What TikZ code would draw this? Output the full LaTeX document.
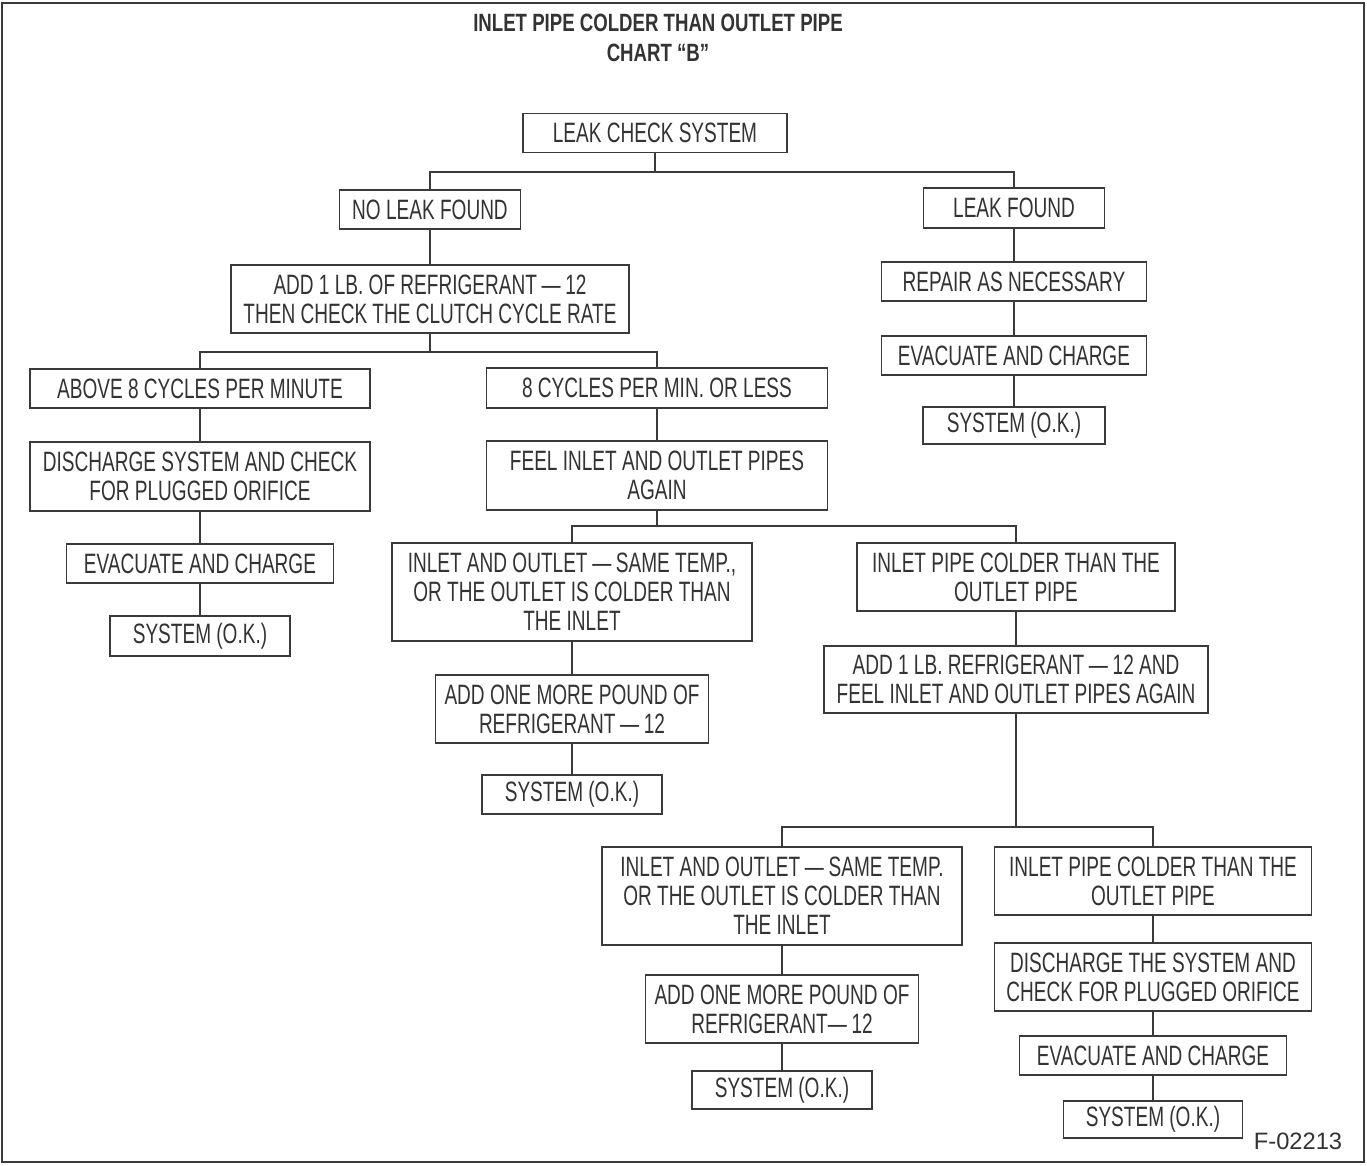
\documentclass[tikz,border=0pt]{standalone}
\usepackage{fontspec}
\setmainfont[FakeStretch=0.68]{Liberation Sans}
\newfontfamily\titlefam[FakeStretch=0.745]{Liberation Sans}
\newfontfamily\plainfam{Liberation Sans}
\definecolor{ink}{HTML}{333333}
\definecolor{linec}{HTML}{3A3A3A}
\begin{document}
\begin{tikzpicture}[x=1pt,y=-1pt,
  every node/.style={text=ink},
  box/.style={draw=linec, line width=1.7pt, fill=white, inner sep=0pt, align=center,
    font={\fontsize{28}{29}\selectfont}},
  conn/.style={draw=linec, line width=1.7pt}]
\useasboundingbox (0,0) rectangle (1367,1165);
\draw[draw=linec, line width=2.5pt] (2,3) rectangle (1364,1162);

% title
\node[font={\titlefam\bfseries\fontsize{25}{30}\selectfont}, align=center] (title) at (658,38)
  {INLET PIPE COLDER THAN OUTLET PIPE\\CHART “B”};

% boxes
\node[box, minimum width=264, minimum height=39] (lcs) at (655,133) {LEAK CHECK SYSTEM};
\node[box, minimum width=181, minimum height=39] (nlf) at (430,209.5) {NO LEAK FOUND};
\node[box, minimum width=181, minimum height=40] (lf) at (1014,208) {LEAK FOUND};
\node[box, minimum width=398, minimum height=68] (add1) at (430,299) {ADD 1 LB. OF REFRIGERANT\,—\,12\\THEN CHECK THE CLUTCH CYCLE RATE};
\node[box, minimum width=265, minimum height=39] (repair) at (1014,281.5) {REPAIR AS NECESSARY};
\node[box, minimum width=265, minimum height=39] (evacR) at (1014,355.5) {EVACUATE AND CHARGE};
\node[box, minimum width=182, minimum height=37] (sysR) at (1014,425.5) {SYSTEM (O.K.)};
\node[box, minimum width=340, minimum height=39] (above) at (200,388.5) {ABOVE 8 CYCLES PER MINUTE};
\node[box, minimum width=341, minimum height=40] (cyc8) at (657,388) {8 CYCLES PER MIN. OR LESS};
\node[box, minimum width=340, minimum height=69] (dischL) at (200,476.5) {DISCHARGE SYSTEM AND CHECK\\FOR PLUGGED ORIFICE};
\node[box, minimum width=341, minimum height=69] (feel) at (657,475.5) {FEEL INLET AND OUTLET PIPES\\AGAIN};
\node[box, minimum width=267, minimum height=39] (evacL) at (200,563.5) {EVACUATE AND CHARGE};
\node[box, minimum width=180, minimum height=40] (sysL) at (200,636) {SYSTEM (O.K.)};
\node[box, minimum width=360, minimum height=98] (same1) at (572,592) {INLET AND OUTLET\,—\,SAME TEMP.,\\OR THE OUTLET IS COLDER THAN\\THE INLET};
\node[box, minimum width=318, minimum height=68] (colder1) at (1016,577) {INLET PIPE COLDER THAN THE\\OUTLET PIPE};
\node[box, minimum width=273, minimum height=68] (addmore1) at (572,709) {ADD ONE MORE POUND OF\\REFRIGERANT\,—\,12};
\node[box, minimum width=384, minimum height=67] (add1lb) at (1016,679.5) {ADD 1 LB. REFRIGERANT\,—\,12 AND\\FEEL INLET AND OUTLET PIPES AGAIN};
\node[box, minimum width=180, minimum height=39] (sysM) at (572,794.5) {SYSTEM (O.K.)};
\node[box, minimum width=360, minimum height=98] (same2) at (782,896) {INLET AND OUTLET\,—\,SAME TEMP.\\OR THE OUTLET IS COLDER THAN\\THE INLET};
\node[box, minimum width=317, minimum height=68] (colder2) at (1153,881) {INLET PIPE COLDER THAN THE\\OUTLET PIPE};
\node[box, minimum width=273, minimum height=68] (addmore2) at (782,1009) {ADD ONE MORE POUND OF\\REFRIGERANT—\,12};
\node[box, minimum width=317, minimum height=68] (dischR) at (1153,977) {DISCHARGE THE SYSTEM AND\\CHECK FOR PLUGGED ORIFICE};
\node[box, minimum width=180, minimum height=38] (sys2) at (782,1090) {SYSTEM (O.K.)};
\node[box, minimum width=267, minimum height=39] (evac2) at (1153,1055.5) {EVACUATE AND CHARGE};
\node[box, minimum width=179, minimum height=37] (sys3) at (1153,1119.5) {SYSTEM (O.K.)};

\node[font={\plainfam\fontsize{23.7}{28}\selectfont}] (fig) at (1298,1141) {F-02213};

% branch points
\coordinate (b1) at (655,172);
\coordinate (b2) at (430,352);
\coordinate (b3) at (657,526);
\coordinate (b4) at (1016,827);

% connectors
\draw[conn] (lcs.south) -- (b1);
\draw[conn] (nlf.north) |- (b1) -| (lf.north);
\draw[conn] (nlf.south) -- (add1.north);
\draw[conn] (add1.south) -- (b2);
\draw[conn] (above.north) |- (b2) -| (cyc8.north);
\draw[conn] (lf.south) -- (repair.north);
\draw[conn] (repair.south) -- (evacR.north);
\draw[conn] (evacR.south) -- (sysR.north);
\draw[conn] (above.south) -- (dischL.north);
\draw[conn] (dischL.south) -- (evacL.north);
\draw[conn] (evacL.south) -- (sysL.north);
\draw[conn] (cyc8.south) -- (feel.north);
\draw[conn] (feel.south) -- (b3);
\draw[conn] (same1.north) |- (b3) -| (colder1.north);
\draw[conn] (same1.south) -- (addmore1.north);
\draw[conn] (addmore1.south) -- (sysM.north);
\draw[conn] (colder1.south) -- (add1lb.north);
\draw[conn] (add1lb.south) -- (b4);
\draw[conn] (same2.north) |- (b4) -| (colder2.north);
\draw[conn] (same2.south) -- (addmore2.north);
\draw[conn] (addmore2.south) -- (sys2.north);
\draw[conn] (colder2.south) -- (dischR.north);
\draw[conn] (dischR.south) -- (evac2.north);
\draw[conn] (evac2.south) -- (sys3.north);
\end{tikzpicture}
\end{document}
